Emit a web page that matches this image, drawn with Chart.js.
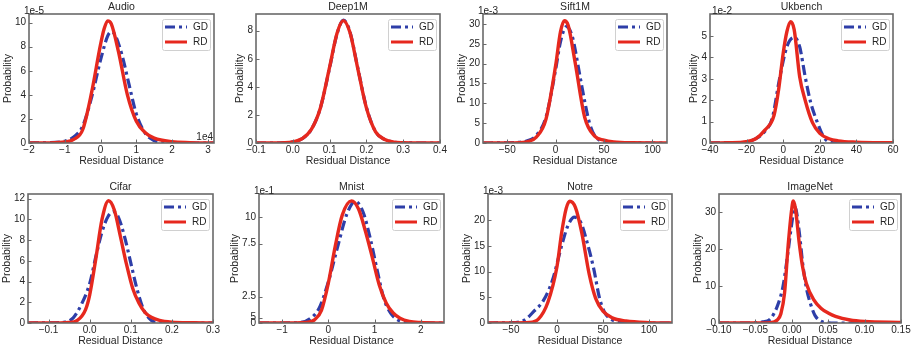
<!DOCTYPE html>
<html>
<head>
<meta charset="utf-8">
<title>Residual distance distributions</title>
<script src="https://cdn.jsdelivr.net/npm/chart.js@4"></script>
<style>
  html, body { margin: 0; padding: 0; background: #fff; }
  #wrap { position: relative; width: 914px; height: 349px; }
  #wrap canvas { position: absolute; }
</style>
</head>
<body>
<div id="wrap"></div>
<script>
// names
var titles = ['Audio', 'Deep1M', 'Sift1M', 'Ukbench', 'Cifar', 'Mnist', 'Notre', 'ImageNet'];
var seriesNames = ['GD', 'RD'];

// curves, [x, y] (axes already divided by the offset text)
var audioGD = [[-2,0],[-1.5,0.02],[-1,0.15],[-0.75,0.5],[-0.5,1.4],[-0.25,3.8],[0,6.9],[0.2,8.9],[0.3,9.25],[0.4,9.0],[0.6,7.3],[0.8,4.8],[1,2.4],[1.25,0.8],[1.5,0.2],[1.75,0.03],[2,0],[3.17,0]];
var audioRD = [[-2,0],[-1.5,0.01],[-1,0.08],[-0.75,0.3],[-0.5,1.1],[-0.25,4.2],[0,8.2],[0.1,9.5],[0.2,10.15],[0.3,9.9],[0.5,7.6],[0.75,4.0],[1,1.8],[1.25,0.85],[1.5,0.4],[2,0.1],[2.5,0.03],[3.17,0]];

var deep1mGD = [[-0.1,0],[-0.05,0],[0,0.08],[0.025,0.3],[0.05,0.95],[0.075,2.5],[0.1,5.35],[0.12,7.75],[0.138,8.75],[0.155,7.95],[0.175,5.55],[0.2,2.55],[0.225,0.8],[0.25,0.25],[0.275,0.06],[0.3,0.02],[0.35,0],[0.4,0]];
var deep1mRD = [[-0.1,0],[-0.05,0],[0,0.08],[0.025,0.3],[0.05,0.95],[0.075,2.5],[0.1,5.4],[0.12,7.8],[0.137,8.72],[0.155,7.9],[0.175,5.5],[0.2,2.5],[0.225,0.8],[0.25,0.25],[0.275,0.06],[0.3,0.02],[0.35,0],[0.4,0]];

var sift1mGD = [[-75,0],[-50,0.05],[-30,0.5],[-20,1.9],[-10,6.5],[0,18.5],[5,25.5],[11,29.3],[17,27],[25,17],[30,10.5],[35,5],[40,2],[50,0.3],[60,0.05],[115,0]];
var sift1mRD = [[-75,0],[-50,0.02],[-30,0.3],[-20,1.5],[-10,6],[0,19.5],[5,28],[9,30.8],[13,29.6],[20,20.5],[30,6.5],[40,1.8],[50,0.7],[60,0.25],[80,0.05],[115,0]];

var ukbenchGD = [[-40,0],[-30,0.01],[-20,0.05],[-15,0.2],[-10,0.55],[-6,1.15],[-2,3.0],[2,4.5],[6,4.94],[9,4.5],[12,3.1],[15,1.9],[18.5,1.0],[22,0.3],[25,0.05],[30,0],[60,0]];
var ukbenchRD = [[-40,0],[-30,0.01],[-20,0.06],[-15,0.2],[-10,0.6],[-5,1.3],[-2.5,2.5],[0,4.2],[2,5.2],[4,5.67],[6,5.3],[9,3.1],[12,2.0],[16,0.95],[20,0.45],[25,0.2],[30,0.1],[40,0.04],[60,0.01]];

var cifarGD = [[-0.15,0],[-0.1,0.01],[-0.06,0.1],[-0.04,0.5],[-0.02,1.8],[0,3.8],[0.015,6.4],[0.03,8.8],[0.045,10.3],[0.058,10.74],[0.07,10.2],[0.085,8.3],[0.1,5.8],[0.115,3.3],[0.13,1.4],[0.145,0.45],[0.16,0.08],[0.2,0],[0.3,0]];
var cifarRD = [[-0.15,0],[-0.1,0],[-0.05,0.05],[-0.03,0.25],[-0.01,1.3],[0,2.7],[0.015,6.2],[0.03,10],[0.046,11.8],[0.06,10.9],[0.075,8.3],[0.09,5.6],[0.105,3.3],[0.12,1.9],[0.135,1.0],[0.15,0.55],[0.17,0.25],[0.2,0.08],[0.25,0.02],[0.3,0]];

var mnistGD = [[-1.5,0],[-1,0],[-0.6,0.05],[-0.4,0.4],[-0.2,1.4],[0,3.9],[0.2,7.2],[0.4,10.3],[0.58,11.5],[0.75,10.5],[0.9,8.1],[1.05,5.1],[1.2,2.3],[1.35,0.9],[1.5,0.3],[1.7,0.05],[2,0],[2.5,0]];
var mnistRD = [[-1.5,0],[-1,0],[-0.5,0.05],[-0.3,0.3],[-0.15,1.2],[0,3.8],[0.15,7.3],[0.3,10.2],[0.5,11.55],[0.65,10.8],[0.8,8.7],[0.95,6.2],[1.1,3.6],[1.25,1.9],[1.4,0.95],[1.55,0.45],[1.75,0.15],[2,0.05],[2.5,0]];

var notreGD = [[-75,0],[-50,0.05],[-35,0.6],[-25,2.3],[-15,4.3],[-5,8.3],[5,15],[12,19],[19,20.6],[26,19.5],[33,15.5],[40,10.5],[46,5],[52,2],[60,0.6],[70,0.1],[80,0],[125,0]];
var notreRD = [[-75,0],[-50,0.02],[-30,0.1],[-20,0.8],[-10,4.0],[0,11],[5,17.5],[10,22.3],[14,23.7],[20,22.5],[27,17.5],[35,9.5],[42,4.8],[50,2.3],[60,1.0],[75,0.4],[100,0.08],[125,0]];

var imagenetGD = [[-0.1,0],[-0.06,0],[-0.04,0.3],[-0.03,1],[-0.02,4.5],[-0.012,10],[-0.005,19.5],[0,27],[0.0045,31.4],[0.01,25],[0.015,16],[0.02,9.5],[0.026,5],[0.032,2],[0.04,0.5],[0.05,0.05],[0.06,0],[0.15,0]];
var imagenetRD = [[-0.1,0],[-0.05,0],[-0.03,0.1],[-0.02,0.8],[-0.015,2.5],[-0.01,8],[-0.005,21],[0,31],[0.002,33],[0.005,31],[0.01,22],[0.015,15],[0.02,10.7],[0.03,6.3],[0.04,4],[0.05,2.7],[0.06,1.8],[0.08,0.8],[0.1,0.4],[0.15,0.15]];

// axis ranges and ticks
var xRanges = [[-2,3.17],[-0.1,0.4],[-75,115],[-40,60],[-0.15,0.3],[-1.5,2.5],[-75,125],[-0.1,0.15]];
var yMaxes = [10.72, 9.19, 32.5, 6.03, 12.45, 12.2, 25.1, 34.9];

var xTicks = [
  [-2,-1,0,1,2,3], [-0.1,0,0.1,0.2,0.3,0.4], [-50,0,50,100], [-40,-20,0,20,40,60],
  [-0.1,0,0.1,0.2,0.3], [-1,0,1,2], [-50,0,50,100], [-0.1,-0.05,0,0.05,0.1,0.15]
];
var xTickLabels = [
  ['−2','−1','0','1','2','3'], ['−0.1','0.0','0.1','0.2','0.3','0.4'], ['−50','0','50','100'], ['−40','−20','0','20','40','60'],
  ['−0.1','0.0','0.1','0.2','0.3'], ['−1','0','1','2'], ['−50','0','50','100'], ['−0.10','−0.05','0.00','0.05','0.10','0.15']
];
var yTicks = [
  [0,2,4,6,8,10], [0,2,4,6,8], [0,5,10,15,20,25,30], [0,1,2,3,4,5],
  [0,2,4,6,8,10,12], [0,0.5,2.5,7.5,10], [0,5,10,15,20], [0,10,20,30]
];
var yTickLabels = [
  ['0','2','4','6','8','10'], ['0','2','4','6','8'], ['0','5','10','15','20','25','30'], ['0','1','2','3','4','5'],
  ['0','2','4','6','8','10','12'], ['0','5','2.5','7.5','10'], ['0','5','10','15','20'], ['0','10','20','30']
];
var yOffsetTexts = ['1e-5', '', '1e-3', '1e-2', '', '1e-1', '1e-3', ''];
var xOffsetTexts = ['1e4', '', '', '', '', '', '', ''];

var curves = [
  [audioGD, audioRD], [deep1mGD, deep1mRD], [sift1mGD, sift1mRD], [ukbenchGD, ukbenchRD],
  [cifarGD, cifarRD], [mnistGD, mnistRD], [notreGD, notreRD], [imagenetGD, imagenetRD]
];

// canvas boxes and frame (left, right, top, bottom) inside each canvas
var boxes = [
  {x: 0,   y: 0,   w: 228, h: 170, f: [29, 214, 14, 143], odx: -5},
  {x: 228, y: 0,   w: 228, h: 170, f: [28, 212, 14, 143], odx: -5},
  {x: 456, y: 0,   w: 228, h: 170, f: [27, 211, 14, 143], odx: -5},
  {x: 684, y: 0,   w: 230, h: 170, f: [26, 209, 14, 143], odx: 2},
  {x: 0,   y: 170, w: 228, h: 179, f: [28, 213, 24, 153], odx: -5},
  {x: 228, y: 170, w: 228, h: 179, f: [31, 216, 24, 153], odx: -5},
  {x: 456, y: 170, w: 228, h: 179, f: [32, 216, 24, 153], odx: -5},
  {x: 684, y: 170, w: 230, h: 179, f: [35, 217, 24, 153], odx: -5}
];

var FONT = '"Liberation Sans", Arial, sans-serif';
var TXT = '#262626';
var FRAME = '#6a6a6a';
var colors = ['#2e3ea8', '#e6281e'];
var widths = [3.2, 3.4];
var dashes = [[10, 4, 3, 4], []];

var decor = {
  id: 'decor',
  afterDraw: function(chart) {
    var o = chart.options.plugins.decor;
    var a = chart.chartArea, ctx = chart.ctx;
    var xs = chart.scales.x, ys = chart.scales.y;
    ctx.save();
    // frame and inward ticks
    ctx.strokeStyle = FRAME;
    ctx.lineWidth = 1.6;
    ctx.strokeRect(a.left, a.top, a.right - a.left, a.bottom - a.top);
    ctx.lineWidth = 1;
    xs.ticks.forEach(function(t) {
      var px = Math.round(xs.getPixelForValue(t.value)) + 0.5;
      ctx.beginPath(); ctx.moveTo(px, a.bottom); ctx.lineTo(px, a.bottom - 3.5); ctx.stroke();
    });
    ys.ticks.forEach(function(t) {
      var py = Math.round(ys.getPixelForValue(t.value)) + 0.5;
      ctx.beginPath(); ctx.moveTo(a.left, py); ctx.lineTo(a.left + 3.5, py); ctx.stroke();
    });

    ctx.fillStyle = TXT;
    ctx.textBaseline = 'middle';
    ctx.font = '10.5px ' + FONT;
    ctx.textAlign = 'center';
    ctx.fillText(o.title, (a.left + a.right) / 2, a.top - 7);
    ctx.fillText('Residual Distance', (a.left + a.right) / 2, a.bottom + 18);

    // y title placed left of the widest tick label
    ctx.font = '10px ' + FONT;
    var maxW = 0;
    o.yLabels.forEach(function(s) { maxW = Math.max(maxW, ctx.measureText(s).width); });
    ctx.font = '10.5px ' + FONT;
    ctx.save();
    ctx.translate(a.left - 3 - maxW - 7, (a.top + a.bottom) / 2);
    ctx.rotate(-Math.PI / 2);
    ctx.fillText('Probability', 0, 0);
    ctx.restore();

    // offset texts
    ctx.font = '10px ' + FONT;
    if (o.yOff) {
      ctx.textAlign = 'left';
      ctx.fillText(o.yOff, a.left + o.odx, a.top - 3);
    }
    if (o.xOff) {
      ctx.textAlign = 'right';
      ctx.fillText(o.xOff, a.right - 1, a.bottom - 6);
    }

    // legend box
    var lw = 48, lh = 31;
    var lx = a.right - 4 - lw, ly = a.top + 5;
    ctx.fillStyle = 'rgba(255,255,255,0.85)';
    ctx.strokeStyle = '#d0d0d0';
    ctx.lineWidth = 1;
    ctx.beginPath();
    ctx.roundRect(lx + 0.5, ly + 0.5, lw, lh, 2);
    ctx.fill();
    ctx.stroke();
    chart.data.datasets.forEach(function(ds, i) {
      var yy = ly + 8 + i * 15;
      ctx.strokeStyle = ds.borderColor;
      ctx.lineWidth = 3;
      ctx.setLineDash(ds.borderDash || []);
      ctx.beginPath(); ctx.moveTo(lx + 3, yy); ctx.lineTo(lx + 25, yy); ctx.stroke();
      ctx.setLineDash([]);
      ctx.fillStyle = TXT;
      ctx.textAlign = 'left';
      ctx.font = '10px ' + FONT;
      ctx.fillText(ds.label, lx + 31, yy);
    });
    ctx.restore();
  }
};

var wrap = document.getElementById('wrap');

boxes.forEach(function(b, k) {
  var cv = document.createElement('canvas');
  cv.width = b.w; cv.height = b.h;
  cv.style.left = b.x + 'px'; cv.style.top = b.y + 'px';
  cv.style.width = b.w + 'px'; cv.style.height = b.h + 'px';
  wrap.appendChild(cv);

  var L = b.f[0], R = b.f[1], T = b.f[2], B = b.f[3];
  var xt = xTicks[k], xl = xTickLabels[k], yt = yTicks[k], yl = yTickLabels[k];

  new Chart(cv.getContext('2d'), {
    type: 'line',
    data: {
      datasets: curves[k].map(function(pts, i) {
        return {
          label: seriesNames[i],
          data: pts.map(function(p) { return {x: p[0], y: p[1]}; }),
          borderColor: colors[i],
          borderWidth: widths[i],
          borderDash: dashes[i],
          pointRadius: 0,
          fill: false,
          cubicInterpolationMode: 'monotone',
          order: i === 0 ? 2 : 1
        };
      })
    },
    options: {
      responsive: false,
      animation: false,
      devicePixelRatio: 1,
      layout: { padding: { left: 0, right: b.w - R, top: T, bottom: 0 } },
      plugins: {
        legend: { display: false },
        title: { display: false },
        tooltip: { enabled: false },
        decor: { title: titles[k], yLabels: yl, yOff: yOffsetTexts[k], xOff: xOffsetTexts[k], odx: b.odx }
      },
      scales: {
        x: {
          type: 'linear',
          min: xRanges[k][0], max: xRanges[k][1],
          grid: { display: false, drawTicks: false, tickLength: 0 }, border: { display: false },
          ticks: {
            padding: 1, color: TXT, font: { size: 10, family: FONT }, maxRotation: 0, autoSkip: false,
            callback: function(v) { var j = xt.indexOf(v); return j < 0 ? '' : xl[j]; }
          },
          afterBuildTicks: function(s) { s.ticks = xt.map(function(v) { return {value: v}; }); },
          afterFit: function(s) { s.height = b.h - B; }
        },
        y: {
          type: 'linear',
          min: 0, max: yMaxes[k],
          grid: { display: false, drawTicks: false, tickLength: 0 }, border: { display: false },
          ticks: {
            padding: 3, color: TXT, font: { size: 10, family: FONT }, autoSkip: false,
            callback: function(v) { var j = yt.indexOf(v); return j < 0 ? '' : yl[j]; }
          },
          afterBuildTicks: function(s) { s.ticks = yt.map(function(v) { return {value: v}; }); },
          afterFit: function(s) { s.width = L; }
        }
      }
    },
    plugins: [decor]
  });
});
</script>
</body>
</html>
